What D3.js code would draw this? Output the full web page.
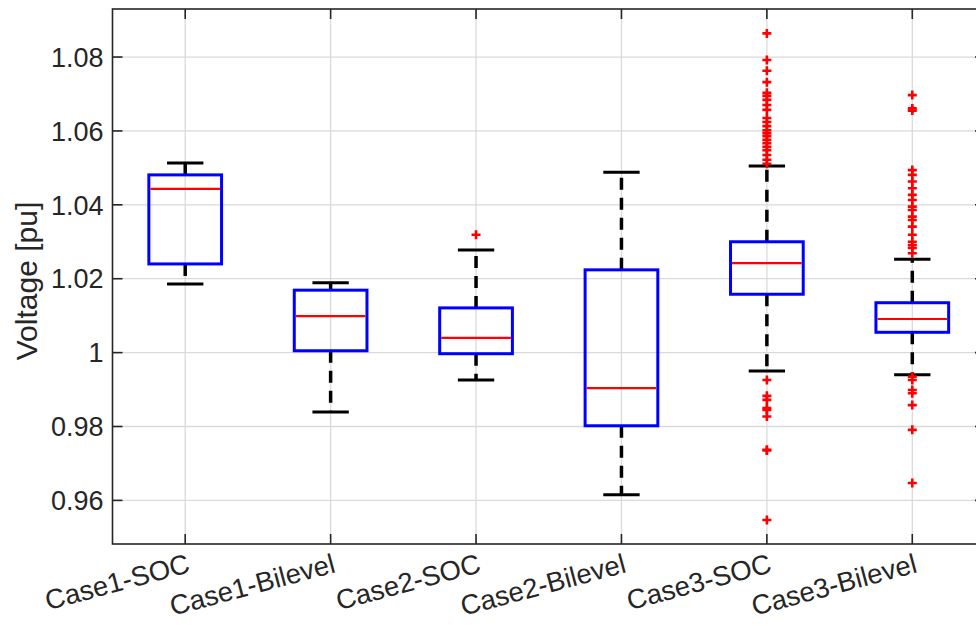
<!DOCTYPE html>
<html><head><meta charset="utf-8">
<script src="https://cdn.jsdelivr.net/npm/d3@7"></script>
<style>html,body{margin:0;padding:0;background:#fff;}svg{display:block;}</style>
</head><body>
<svg id="chart" width="976" height="625"></svg>
<script>
const categories = ["Case1-SOC","Case1-Bilevel","Case2-SOC","Case2-Bilevel","Case3-SOC","Case3-Bilevel"];
const medians     = [1.0443, 1.0099, 1.0040, 0.9904, 1.0242, 1.0091];
const q1          = [1.0240, 1.0005, 0.9997, 0.9802, 1.0158, 1.0055];
const q3          = [1.0481, 1.0169, 1.0121, 1.0224, 1.0300, 1.0135];
const whiskerLow  = [1.0186, 0.9839, 0.9926, 0.9615, 0.9950, 0.9940];
const whiskerHigh = [1.0513, 1.0189, 1.0278, 1.0488, 1.0505, 1.0253];
const outliersCase1SOC = [];
const outliersCase1Bilevel = [];
const outliersCase2SOC = [1.0319];
const outliersCase2Bilevel = [];
const outliersCase3SOC = [1.0864,1.0792,1.0763,1.0732,1.0703,1.0695,1.0684,1.0670,1.0657,1.0635,1.0624,1.0613,1.0602,1.0594,1.0586,1.0576,1.0567,1.0557,1.0548,1.0535,1.0522,1.0511,
  0.9926,0.9883,0.9872,0.9850,0.9845,0.9827,0.9737,0.9735,0.9547];
const outliersCase3Bilevel = [1.0697,1.0661,1.0655,1.0494,1.0481,1.0463,1.0445,1.0427,1.0413,1.0395,1.0386,1.0368,1.0359,1.0341,1.0319,1.0300,1.0291,1.0283,1.0269,
  0.9935,0.9926,0.9899,0.9890,0.9858,0.9791,0.9647];
const outliers = [outliersCase1SOC,outliersCase1Bilevel,outliersCase2SOC,outliersCase2Bilevel,outliersCase3SOC,outliersCase3Bilevel];
const yTicks = [0.96,0.98,1.00,1.02,1.04,1.06,1.08];
const yDomain = [0.9482, 1.093];

const svg = d3.select("#chart");
const L = 112.5, R = 985, T = 9, B = 544;
const font = "'Liberation Sans', Arial, Helvetica, sans-serif";
const axisColor = "#262626";

const x = d3.scaleLinear().domain([0.5, categories.length + 0.5]).range([L, R]);
const y = d3.scaleLinear().domain(yDomain).range([B, T]);
const cx = i => x(i + 1);
const bw = x(1.25) - x(1);   // half box width
const cw = x(1.125) - x(1);  // half cap width

// grid
const grid = svg.append("g");
grid.selectAll("line.h").data(yTicks).join("line")
  .attr("x1", L).attr("x2", R).attr("y1", d => y(d)).attr("y2", d => y(d))
  .attr("stroke", "#dadada").attr("stroke-width", 1.3);
grid.selectAll("line.v").data(categories).join("line")
  .attr("x1", (d,i) => cx(i)).attr("x2", (d,i) => cx(i)).attr("y1", T).attr("y2", B)
  .attr("stroke", "#dadada").attr("stroke-width", 1.3);

// boxes
const g = svg.append("g");
categories.forEach((c, i) => {
  const X = cx(i);
  g.append("line").attr("x1", X).attr("x2", X).attr("y1", y(q3[i])).attr("y2", y(whiskerHigh[i]))
    .attr("stroke", "#000").attr("stroke-width", 3.5).attr("stroke-dasharray", "12,8");
  g.append("line").attr("x1", X).attr("x2", X).attr("y1", y(q1[i])).attr("y2", y(whiskerLow[i]))
    .attr("stroke", "#000").attr("stroke-width", 3.5).attr("stroke-dasharray", "12,8");
  [whiskerHigh[i], whiskerLow[i]].forEach(v => {
    g.append("line").attr("x1", X - cw).attr("x2", X + cw).attr("y1", y(v)).attr("y2", y(v))
      .attr("stroke", "#000").attr("stroke-width", 3);
  });
  g.append("rect").attr("x", X - bw).attr("width", 2 * bw)
    .attr("y", y(q3[i])).attr("height", y(q1[i]) - y(q3[i]))
    .attr("fill", "none").attr("stroke", "#0000ff").attr("stroke-width", 3);
  g.append("line").attr("x1", X - bw + 1.5).attr("x2", X + bw - 1.5).attr("y1", y(medians[i])).attr("y2", y(medians[i]))
    .attr("stroke", "#ff0000").attr("stroke-width", 2.2);
  g.selectAll(null).data(outliers[i]).join("path")
    .attr("d", d => `M${X-4.5},${y(d)}H${X+4.5}M${X},${y(d)-4.5}V${y(d)+4.5}`)
    .attr("stroke", "#ff0000").attr("stroke-width", 2.6).attr("fill", "none");
});

// axes frame
const ax = svg.append("g");
ax.append("rect").attr("x", L).attr("y", T).attr("width", R - L).attr("height", B - T)
  .attr("fill", "none").attr("stroke", axisColor).attr("stroke-width", 1.6);
ax.selectAll("line.yl").data(yTicks).join("line")
  .attr("x1", L).attr("x2", L + 10).attr("y1", d => y(d)).attr("y2", d => y(d))
  .attr("stroke", axisColor).attr("stroke-width", 1.6);
ax.selectAll("line.yr").data(yTicks).join("line")
  .attr("x1", R - 10).attr("x2", R).attr("y1", d => y(d)).attr("y2", d => y(d))
  .attr("stroke", axisColor).attr("stroke-width", 1.6);
ax.selectAll("line.xb").data(categories).join("line")
  .attr("x1", (d,i) => cx(i)).attr("x2", (d,i) => cx(i)).attr("y1", B).attr("y2", B - 10)
  .attr("stroke", axisColor).attr("stroke-width", 1.6);
ax.selectAll("line.xt").data(categories).join("line")
  .attr("x1", (d,i) => cx(i)).attr("x2", (d,i) => cx(i)).attr("y1", T).attr("y2", T + 10)
  .attr("stroke", axisColor).attr("stroke-width", 1.6);

const fmt = d => String(+d.toFixed(2));
ax.selectAll("text.yt").data(yTicks).join("text")
  .attr("x", L - 9).attr("y", d => y(d)).attr("dy", "0.36em")
  .attr("text-anchor", "end").attr("font-family", font).attr("font-size", 27)
  .attr("fill", axisColor).text(fmt);

ax.selectAll("text.xt").data(categories).join("text")
  .attr("transform", (d,i) => `translate(${cx(i) + 1},${B + 9}) rotate(-15)`)
  .attr("text-anchor", "end").attr("dy", "0.71em")
  .attr("font-family", font).attr("font-size", 27.5)
  .attr("fill", axisColor).text(d => d);

svg.append("text")
  .attr("transform", `translate(37,281) rotate(-90)`)
  .attr("text-anchor", "middle")
  .attr("font-family", font).attr("font-size", 30).attr("fill", axisColor)
  .text("Voltage [pu]");
</script>
</body></html>
